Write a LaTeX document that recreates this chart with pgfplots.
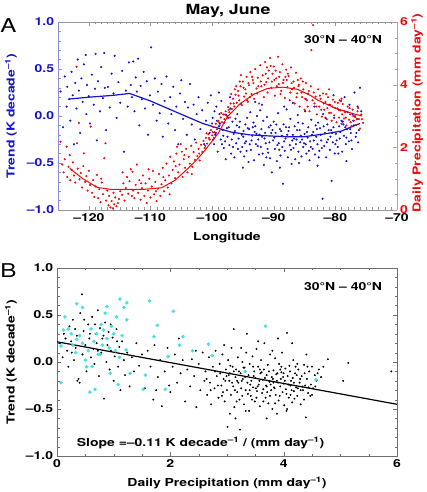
\documentclass[border=0pt]{standalone}
\usepackage{fontspec}
\setmainfont{TeX Gyre Heros}[FakeStretch=1.27]
\usepackage{pgfplots}
\pgfplotsset{compat=1.18}
\definecolor{blueD}{RGB}{20,20,205}
\definecolor{blueL}{RGB}{140,140,225}
\definecolor{redD}{RGB}{240,10,10}
\definecolor{redL}{RGB}{240,140,140}
\definecolor{cyanD}{RGB}{70,225,225}
\definecolor{grayL}{RGB}{150,150,150}
\definecolor{grayD}{RGB}{110,110,110}
\begin{document}
\fontsize{11}{13}\selectfont\bfseries
\begin{tikzpicture}
\path[use as bounding box] (0pt,0pt) rectangle (426pt,492pt);
\pgfplotsset{every axis/.append style={scale only axis, tick align=inside, major tick length=4pt, minor tick length=2.5pt,
  tick label style={font=\fontsize{11}{13}\selectfont\bfseries}}}
% ---------------- Panel A, left axis (trend) ----------------
\begin{axis}[at={(58pt,282pt)}, anchor=south west, width=339pt, height=188pt,
  xmin=-125, xmax=-70, ymin=-1, ymax=1,
  axis x line*=box, axis y line*=left,
  x axis line style={grayL}, y axis line style={blueL},
  x tick style={grayL}, y tick style={blueL},
  xtick={-120,-110,-100,-90,-80,-70}, xticklabels={–120,–110,–100,–90,–80,–70},
  xticklabel style={inner sep=1pt, yshift=-2.3pt},
  minor x tick num=9,
  ytick={-1,-0.5,0,0.5,1}, yticklabels={–1.0,–0.5,0.0,0.5,1.0}, minor y tick num=4,
  yticklabel style={text=blueD}]
\addplot[only marks, mark=*, mark size=0.85pt, blueD] table {
-124.6 0.26
-124.2 -0.12
-123.9 0.42
-123.6 0.10
-123.5 0.31
-123.2 0.18
-123.0 -0.05
-122.8 0.47
-122.6 0.22
-122.4 -0.30
-122.2 0.35
-122.0 0.08
-121.8 0.60
-121.6 0.27
-121.4 -0.18
-121.2 0.40
-121.0 0.15
-120.8 0.55
-120.5 0.65
-120.4 0.02
-120.3 0.33
-120.0 0.21
-119.8 -0.08
-119.5 0.44
-119.2 0.12
-119.0 0.29
-118.9 0.66
-118.7 -0.26
-118.5 0.37
-118.2 0.05
-118.0 0.52
-117.7 0.19
-117.5 0.67
-117.4 0.30
-117.2 -0.15
-116.9 0.31
-116.6 0.09
-116.3 0.45
-116.0 0.24
-115.8 0.64
-115.5 -0.02
-115.2 0.36
-114.9 0.14
-114.6 0.48
-114.3 -0.38
-114.0 0.27
-113.7 0.10
-113.5 0.57
-113.2 0.33
-113.0 0.20
-112.8 0.58
-112.6 0.05
-112.4 0.41
-112.2 0.26
-112.0 0.61
-111.8 -0.10
-111.6 0.32
-111.4 0.18
-111.1 0.47
-110.9 0.08
-110.6 0.37
-110.4 -0.20
-110.1 0.22
-109.9 0.73
-109.6 0.12
-109.3 0.40
-109.0 -0.05
-108.8 0.26
-108.5 0.03
-108.2 0.34
-108.0 -0.22
-107.7 0.16
-107.4 0.42
-107.1 -0.08
-106.8 0.20
-106.6 0.02
-106.3 0.31
-106.0 -0.15
-105.8 0.10
-105.5 -0.30
-105.2 0.24
-105.0 0.38
-104.7 -0.03
-104.4 0.15
-104.1 -0.20
-103.9 0.09
-103.6 0.34
-103.3 -0.09
-103.0 0.12
-102.8 -0.25
-102.5 0.02
-102.2 0.20
-101.9 -0.14
-101.6 0.06
-101.3 -0.30
-101.0 -0.05
-100.7 0.14
-100.4 -0.18
-100.2 0.22
-100.0 -0.08
-99.9 -0.02
-99.7 -0.30
-99.6 0.05
-99.4 -0.18
-99.3 0.10
-99.1 -0.38
-98.9 -0.11
-98.8 0.02
-98.6 -0.25
-98.5 0.16
-98.3 -0.15
-98.1 -0.34
-98.0 -0.07
-97.8 -0.46
-97.7 0.01
-97.5 -0.22
-97.3 -0.12
-97.2 -0.31
-97.0 0.08
-96.9 -0.40
-96.7 -0.06
-96.5 -0.19
-96.4 -0.44
-96.2 -0.03
-96.1 -0.29
-95.9 0.02
-95.7 -0.24
-95.6 -0.12
-95.4 -0.38
-95.3 0.13
-95.1 -0.33
-94.9 -0.16
-94.8 -0.43
-94.6 -0.09
-94.5 -0.27
-94.3 -0.02
-94.1 -0.49
-94.0 -0.14
-93.8 0.04
-93.7 -0.36
-93.5 -0.21
-93.3 -0.07
-93.2 -0.47
-93.0 -0.11
-92.9 -0.30
-92.7 0.00
-92.5 -0.25
-92.4 -0.41
-92.2 0.06
-92.1 -0.33
-91.9 -0.22
-91.7 -0.05
-91.6 -0.52
-91.4 -0.18
-91.3 -0.29
-91.1 -0.01
-90.9 -0.39
-90.8 -0.12
-90.6 -0.45
-90.5 -0.10
-90.3 -0.60
-90.1 -0.26
-90.0 -0.06
-89.8 -0.35
-89.7 -0.18
-89.5 -0.48
-89.3 0.03
-89.2 -0.29
-89.0 -0.14
-88.9 -0.42
-88.7 -0.21
-88.5 -0.72
-88.4 -0.09
-88.2 -0.37
-88.1 -0.24
-87.9 0.07
-87.7 -0.44
-87.6 -0.16
-87.4 -0.31
-87.3 -0.03
-87.1 -0.51
-86.9 -0.20
-86.8 -0.34
-86.6 -0.11
-86.5 -0.46
-86.3 -0.25
-86.1 0.01
-86.0 -0.38
-85.8 -0.15
-85.7 -0.28
-85.5 -0.43
-85.3 -0.08
-85.2 -0.33
-85.0 -0.19
-84.9 0.05
-84.7 -0.40
-84.5 -0.23
-84.4 -0.12
-84.2 -0.47
-84.1 -0.27
-83.9 -0.04
-83.7 -0.35
-83.6 -0.17
-83.4 0.10
-83.3 -0.41
-83.1 -0.22
-82.9 -0.30
-82.8 -0.07
-82.6 -0.37
-82.5 -0.13
-82.3 -0.26
-82.1 -0.88
-82.0 0.02
-81.8 -0.32
-81.7 -0.18
-81.5 -0.44
-81.3 -0.09
-81.2 -0.25
-81.0 0.12
-80.9 -0.36
-80.7 -0.15
-80.6 -0.69
-80.4 -0.28
-80.2 -0.02
-80.1 -0.40
-79.9 -0.19
-79.7 0.08
-79.6 -0.33
-79.4 -0.11
-79.3 -0.24
-79.1 0.16
-78.9 -0.38
-78.8 -0.06
-78.6 -0.21
-78.5 0.20
-78.3 -0.30
-78.1 -0.14
-78.0 0.04
-77.8 -0.27
-77.7 0.12
-77.5 -0.18
-77.3 -0.35
-77.2 0.02
-77.0 -0.10
-76.9 0.25
-76.7 -0.22
-76.5 -0.03
-76.4 0.10
-76.2 -0.15
-76.0 0.30
-75.8 0.05
-99.5 -0.20
-98.7 -0.08
-98.2 -0.21
-97.6 -0.13
-96.8 -0.25
-96.3 -0.16
-95.8 -0.35
-95.2 -0.20
-94.7 -0.29
-94.2 -0.13
-93.6 -0.26
-93.1 -0.17
-92.6 -0.32
-92.0 -0.14
-91.5 -0.24
-91.0 -0.35
-90.4 -0.18
-89.9 -0.23
-89.4 -0.31
-88.8 -0.16
-88.3 -0.27
-87.8 -0.20
-87.2 -0.36
-86.7 -0.24
-86.2 -0.15
-85.6 -0.21
-85.1 -0.29
-84.6 -0.17
-84.0 -0.33
-83.5 -0.26
-83.0 -0.14
-82.4 -0.20
-81.9 -0.11
-81.4 -0.28
-80.8 -0.22
-80.3 -0.12
-79.8 -0.26
-79.2 -0.17
-78.7 -0.09
-78.2 -0.23
-77.6 -0.14
-77.1 -0.05
-76.6 -0.18
-97.9 -0.27
-96.0 -0.10
-94.4 -0.37
-92.8 -0.19
-91.8 -0.40
-90.7 -0.28
-89.6 -0.09
-88.6 -0.33
-87.5 -0.12
-86.4 -0.30
-85.4 -0.25
-84.3 -0.37
-83.2 -0.10
-82.2 -0.34
-81.1 -0.15
-80.0 -0.30
-79.0 -0.05
-99.8 -0.25
-99.2 -0.05
-98.4 -0.30
-97.4 -0.02
-96.6 -0.33
-95.5 -0.06
-94.95 -0.22
-93.9 -0.30
-93.4 -0.12
-92.3 -0.20
-91.2 -0.44
-90.2 -0.15
-89.1 -0.36
-88.0 -0.12
-87.0 -0.26
-86.05 -0.07
-85.9 -0.50
-84.8 -0.30
-83.8 -0.20
-82.7 -0.44
-81.6 -0.02
-80.5 -0.18
-79.5 -0.40
-78.4 -0.12
-77.4 -0.26
-76.8 -0.01
-76.3 -0.28
-95.0 -0.55
-91.9 0.12
-89.0 -0.55
-86.9 0.14
-84.8 0.18
-82.9 -0.53
-80.3 0.22
-78.2 -0.48
-97.1 0.20
-98.9 0.25
-93.0 0.15
-88.3 0.10
};
\addplot[blueD, line width=1.2pt] table {
-123.2 0.18
-120.0 0.20
-116.0 0.22
-113.4 0.24
-110.0 0.16
-107.9 0.10
-104.0 -0.01
-101.5 -0.08
-100.0 -0.11
-97.0 -0.17
-94.0 -0.20
-91.5 -0.21
-88.0 -0.22
-85.0 -0.22
-81.7 -0.19
-79.0 -0.16
-77.2 -0.11
-76.0 -0.08
};
\end{axis}
% ---------------- Panel A, right axis (precipitation) ----------------
\begin{axis}[at={(58pt,282pt)}, anchor=south west, width=339pt, height=188pt,
  xmin=-125, xmax=-70, ymin=0, ymax=6,
  axis x line=none, axis y line*=right,
  y axis line style={redL}, y tick style={redL},
  ytick={0,2,4,6}, yticklabels={0,2,4,6}, minor y tick num=3,
  yticklabel style={text=redD, inner sep=1pt, xshift=2pt}]
\addplot[only marks, mark=*, mark size=0.85pt, redD] table {
-124.6 2.18
-124.3 1.45
-124.1 1.20
-123.9 1.62
-123.6 2.02
-123.5 1.05
-123.3 1.38
-123.1 1.75
-123.0 0.95
-122.8 1.28
-122.6 1.52
-122.4 1.10
-122.2 0.88
-122.0 4.57
-121.9 2.13
-121.8 1.32
-121.6 2.78
-121.5 0.98
-121.3 1.18
-121.1 0.72
-120.9 1.40
-120.8 1.81
-120.6 0.90
-120.4 1.08
-120.2 0.62
-120.0 1.25
-119.8 0.80
-119.7 2.66
-119.5 0.55
-119.3 0.95
-119.1 0.42
-118.9 0.75
-118.7 1.12
-118.5 0.38
-118.3 0.66
-118.1 0.25
-117.9 0.88
-117.7 0.50
-117.5 1.65
-117.3 2.13
-117.2 0.30
-117.0 0.62
-116.8 0.15
-116.7 0.45
-116.5 0.08
-116.3 0.28
-116.1 0.05
-115.9 0.18
-115.7 0.40
-115.5 0.12
-115.3 0.22
-115.1 0.35
-114.9 0.60
-114.6 0.48
-114.4 0.85
-114.2 0.30
-114.0 0.70
-113.8 1.05
-113.6 0.52
-113.4 0.92
-113.2 1.30
-112.9 1.22
-112.8 0.62
-112.6 0.38
-112.4 0.80
-112.2 1.45
-112.0 0.55
-111.8 0.95
-111.6 0.33
-111.4 0.70
-111.2 1.10
-111.0 0.45
-110.8 0.85
-110.6 0.22
-110.4 0.62
-110.2 1.00
-110.0 0.40
-109.8 0.75
-109.6 1.25
-109.4 0.50
-109.2 0.90
-109.0 0.28
-108.8 0.68
-108.6 1.15
-108.4 0.45
-108.2 0.82
-108.0 1.35
-107.8 0.60
-107.6 0.95
-107.4 1.48
-107.2 0.72
-107.0 1.10
-106.8 1.70
-106.6 0.85
-106.4 1.28
-106.2 1.55
-106.0 1.02
-105.8 1.80
-105.7 2.02
-105.5 1.20
-105.3 1.45
-105.1 2.10
-104.9 1.86
-104.8 1.05
-104.6 1.62
-104.4 1.35
-104.2 1.95
-104.0 1.20
-103.8 1.70
-103.6 1.48
-103.4 2.05
-103.2 1.38
-103.0 1.85
-102.8 1.60
-102.6 2.15
-102.4 1.72
-102.2 1.95
-102.0 1.58
-101.8 2.08
-101.6 1.85
-101.4 2.20
-101.2 1.98
-101.0 2.30
-100.8 2.12
-100.6 2.42
-100.4 2.25
-100.2 2.55
-100.0 2.38
-99.8 2.65
-99.6 2.48
-99.4 2.75
-99.2 2.58
-99.0 2.85
-98.8 2.70
-98.6 2.95
-98.4 2.80
-98.2 3.05
-98.0 2.90
-97.8 3.15
-97.6 3.00
-97.4 3.28
-97.2 3.12
-97.0 3.40
-96.8 3.22
-96.6 3.55
-96.4 3.30
-96.2 3.68
-96.0 3.42
-95.8 3.80
-95.6 3.50
-95.4 3.95
-95.2 3.35
-95.0 4.10
-94.8 3.62
-94.6 3.85
-94.4 4.25
-94.2 3.45
-94.0 3.98
-93.8 4.40
-93.6 3.70
-93.4 4.15
-93.2 3.55
-93.0 4.50
-92.8 3.88
-92.6 4.22
-92.4 3.40
-92.2 4.62
-92.0 3.95
-91.8 4.30
-91.6 3.60
-91.4 4.72
-91.2 4.08
-91.0 3.75
-90.8 4.45
-90.6 4.85
-90.4 3.90
-90.2 4.35
-90.0 4.58
-89.8 3.65
-89.6 4.20
-89.3 4.89
-89.2 4.02
-89.0 4.40
-88.8 3.80
-88.6 4.65
-88.4 4.15
-88.2 3.58
-88.0 4.48
-87.8 3.92
-87.6 4.28
-87.4 3.50
-87.2 4.55
-87.0 3.85
-86.8 4.10
-86.6 3.40
-86.4 4.38
-86.2 3.72
-86.0 3.95
-85.8 3.30
-85.6 4.20
-85.4 3.60
-85.2 3.85
-85.0 3.20
-84.8 4.05
-84.6 3.50
-84.4 3.72
-84.2 3.15
-84.0 3.95
-83.9 5.10
-83.6 5.90
-83.4 3.40
-83.2 3.62
-83.0 3.05
-82.8 3.85
-82.6 3.30
-82.4 3.55
-82.2 2.98
-82.0 3.72
-81.8 3.20
-81.6 3.45
-81.4 2.90
-81.2 3.60
-81.0 3.10
-80.8 3.35
-80.6 2.85
-80.4 3.52
-80.2 3.02
-80.0 3.25
-79.8 2.80
-79.6 3.42
-79.4 2.95
-79.2 3.18
-79.0 2.75
-78.8 3.38
-78.6 2.92
-78.4 3.12
-78.2 2.70
-78.0 3.30
-77.8 2.88
-77.6 3.05
-77.4 2.68
-77.2 3.20
-77.0 2.85
-76.8 3.00
-76.6 2.72
-76.4 3.15
-76.2 2.90
-76.0 2.60
-75.8 3.05
-75.5 2.78
-96.9 3.70
-96.1 3.95
-95.3 4.30
-94.5 3.72
-93.9 3.60
-93.3 4.05
-92.7 3.72
-92.1 4.10
-91.5 4.00
-90.9 4.20
-90.3 4.10
-89.7 4.45
-89.1 4.25
-88.5 4.05
-87.9 4.15
-87.3 3.75
-86.7 3.90
-86.1 4.15
-85.5 3.75
-84.9 3.55
-84.3 3.80
-83.7 3.50
-83.1 3.30
-82.5 3.65
-81.9 3.40
-81.3 3.25
-80.7 3.10
-80.1 3.45
-79.5 3.20
-78.9 3.05
-78.3 2.95
-77.7 3.25
-77.1 3.00
-76.5 2.90
-98.9 2.80
-99.9 2.48
-101.1 2.05
-100.5 2.30
-97.9 3.05
-97.3 3.20
-96.5 3.40
-95.7 3.65
-94.9 3.90
-94.1 4.05
-91.1 4.55
-89.5 3.95
-87.7 4.35
-85.9 4.00
-118.0 1.00
-116.0 0.55
-114.5 1.20
-113.0 0.45
-111.5 0.85
-110.3 1.30
-109.1 0.60
-107.9 1.05
-106.9 0.50
-105.9 1.40
-104.5 1.75
-103.3 1.15
-102.1 1.80
-100.9 2.45
-99.7 2.30
-98.5 3.10
-97.1 2.95
-96.3 3.85
-95.5 4.10
-94.3 3.50
-93.5 4.25
-92.5 3.95
-91.3 4.35
-90.5 4.60
-89.9 4.15
-88.9 3.70
-88.1 4.25
-87.1 4.05
-86.3 3.60
-85.3 4.10
-84.5 3.30
-83.5 3.75
-82.3 3.20
-81.5 3.70
-80.5 3.30
-79.3 3.50
-78.5 3.15
-77.5 2.80
-76.3 3.25
-75.7 2.90
-81.0 3.85
-79.0 3.55
};
\addplot[redD, line width=1pt] table {
-123.1 1.33
-121.0 1.00
-118.6 0.72
-116.5 0.66
-114.8 0.66
-111.0 0.66
-108.2 0.71
-106.0 0.95
-103.9 1.33
-102.5 1.60
-101.1 1.92
-99.0 2.45
-97.5 2.98
-95.4 3.40
-93.2 3.70
-91.0 3.88
-88.5 3.92
-86.1 3.85
-84.0 3.65
-82.8 3.50
-80.0 3.25
-77.4 3.09
-75.7 3.00
};
\end{axis}
% ---------------- Panel B ----------------
\begin{axis}[at={(57pt,36pt)}, anchor=south west, width=340pt, height=188pt,
  xmin=0, xmax=6, ymin=-1, ymax=1,
  axis line style={grayD}, tick style={grayD},
  xtick={0,2,4,6}, xticklabels={0,2,4,6}, minor x tick num=3,
  ytick={-1,-0.5,0,0.5,1}, yticklabels={–1.0,–0.5,0.0,0.5,1.0}, minor y tick num=4]
\addplot[only marks, mark=*, mark size=0.75pt, black] table {
0.05 0.20
0.10 0.05
0.12 0.30
0.18 0.12
0.20 -0.05
0.22 0.38
0.25 0.22
0.28 0.45
0.30 0.02
0.33 0.15
0.35 0.28
0.38 -0.18
0.40 -0.22
0.41 0.52
0.44 0.72
0.45 0.08
0.47 0.33
0.50 0.18
0.52 -0.10
0.55 0.40
0.57 0.25
0.60 0.05
0.62 0.48
0.64 0.14
0.66 -0.02
0.68 0.30
0.70 0.20
0.72 0.55
0.74 -0.15
0.76 0.36
0.78 0.10
0.80 0.25
0.83 -0.39
0.85 0.42
0.87 0.00
0.89 0.18
0.91 0.32
0.93 -0.08
0.95 0.12
0.98 0.26
1.00 -0.20
1.02 0.06
1.05 0.35
1.08 -0.05
1.10 0.16
1.12 -0.30
1.15 0.22
1.18 0.02
1.20 -0.14
1.24 0.10
1.28 -0.26
1.32 0.05
1.36 -0.10
1.40 0.20
1.45 -0.04
1.50 0.08
0.15 0.25
0.32 0.35
0.58 0.30
0.82 0.28
0.95 0.40
1.06 0.22
0.36 -0.20
0.26 0.10
0.72 0.12
0.48 0.45
0.67 0.40
1.55 -0.28
1.60 0.12
1.65 -0.05
1.70 -0.40
1.72 0.18
1.78 -0.16
1.82 0.02
1.85 -0.47
1.90 -0.10
1.95 0.15
2.00 -0.32
2.04 -0.05
2.08 0.08
2.12 -0.22
2.18 -0.12
2.22 0.02
2.26 -0.42
2.30 -0.08
2.35 -0.26
2.38 0.03
2.42 -0.15
2.46 -0.48
2.50 -0.02
2.53 -0.30
2.57 0.10
2.60 -0.20
1.75 -0.30
2.15 0.25
2.45 0.12
1.98 -0.25
2.62 -0.10
2.65 -0.35
2.68 0.05
2.70 -0.22
2.72 -0.45
2.75 -0.05
2.78 -0.28
2.80 0.12
2.82 -0.15
2.85 -0.38
2.87 -0.02
2.90 -0.25
2.92 0.08
2.94 -0.18
2.96 -0.42
2.98 -0.08
3.00 -0.30
3.01 -0.69
3.02 0.02
3.04 -0.20
3.05 -0.12
3.07 -0.35
3.08 0.15
3.10 -0.05
3.11 -0.26
3.12 0.35
3.13 -0.48
3.15 -0.16
3.16 -0.08
3.18 -0.32
3.19 0.05
3.20 -0.22
3.22 -0.40
3.23 -0.72
3.24 -0.12
3.25 -0.28
3.27 0.00
3.28 -0.18
3.30 -0.45
3.31 -0.06
3.33 -0.30
3.34 0.10
3.35 0.30
3.36 -0.22
3.38 -0.14
3.39 -0.52
3.40 -0.02
3.42 -0.36
3.43 -0.20
3.45 0.06
3.46 -0.27
3.48 -0.10
3.49 -0.42
3.50 -0.17
3.52 0.14
3.53 -0.31
3.55 -0.05
3.56 -0.24
3.58 -0.47
3.59 -0.12
3.60 0.02
3.62 -0.33
3.63 -0.19
3.65 -0.08
3.66 0.20
3.68 -0.38
3.69 -0.25
3.70 -0.14
3.72 -0.03
3.73 -0.44
3.75 -0.21
3.76 0.08
3.78 -0.30
3.79 -0.16
3.80 -0.50
3.82 -0.09
3.83 -0.27
3.85 0.04
3.86 -0.35
3.88 -0.20
3.89 -0.12
3.91 -0.41
3.92 -0.02
3.94 -0.26
3.95 -0.18
3.97 0.10
3.98 -0.32
4.00 -0.23
4.01 -0.46
4.03 -0.07
4.04 -0.29
4.06 0.31
4.07 -0.15
4.09 -0.38
4.10 -0.04
4.12 -0.25
4.13 -0.20
4.15 -0.43
4.17 0.02
4.18 -0.31
4.20 -0.12
4.22 -0.27
4.24 -0.36
4.26 -0.08
4.28 -0.22
4.30 -0.45
4.32 -0.15
4.34 -0.30
4.36 -0.03
4.38 -0.25
4.39 -0.59
4.41 -0.18
4.43 -0.33
4.45 -0.10
4.48 -0.24
4.50 -0.05
4.52 -0.28
4.55 -0.14
4.58 -0.20
4.62 -0.08
4.66 -0.16
4.70 -0.05
4.78 0.03
5.05 -0.20
5.14 -0.01
5.90 -0.10
3.03 -0.14
3.09 -0.22
3.14 -0.30
3.21 -0.10
3.26 -0.20
3.32 -0.16
3.37 -0.34
3.41 -0.24
3.47 -0.15
3.51 -0.28
3.57 -0.20
3.61 -0.11
3.64 -0.29
3.67 -0.17
3.71 -0.32
3.74 -0.10
3.77 -0.24
3.81 -0.18
3.84 -0.28
3.87 -0.13
3.90 -0.22
3.93 -0.36
3.96 -0.11
3.99 -0.16
4.02 -0.20
4.05 -0.34
4.08 -0.24
4.11 -0.10
4.14 -0.30
4.16 -0.17
4.19 -0.39
4.21 -0.05
4.25 -0.28
4.29 -0.18
4.33 -0.26
4.37 -0.12
2.88 -0.12
2.93 -0.32
2.97 -0.20
3.06 -0.04
3.17 -0.42
3.29 -0.06
3.44 -0.40
3.54 -0.26
3.85 -0.44
3.96 -0.05
4.23 -0.14
4.44 -0.27
4.47 -0.36
2.64 -0.18
2.71 -0.30
2.79 -0.10
2.84 -0.25
2.91 -0.36
2.99 -0.15
3.05 -0.55
3.12 -0.10
3.18 -0.20
3.27 -0.36
3.33 -0.52
3.40 -0.30
3.46 -0.05
3.52 -0.38
3.58 -0.08
3.64 -0.42
3.70 -0.26
3.76 -0.36
3.82 -0.22
3.88 -0.55
3.94 -0.08
4.00 -0.12
4.06 -0.50
4.12 -0.35
4.18 -0.22
4.24 -0.02
4.30 -0.30
4.36 -0.40
4.42 -0.05
4.50 -0.35
4.56 -0.26
4.60 -0.12
3.25 0.15
3.55 0.22
3.80 0.12
4.15 0.20
2.95 0.18
3.90 0.25
4.40 0.08
3.15 -0.60
3.70 -0.60
4.05 -0.52
};
\addplot[only marks, mark=*, mark size=1.6pt, cyanD] table {
0.07 -0.22
0.07 0.17
0.11 0.34
0.14 0.48
0.35 0.24
0.52 -0.05
0.58 -0.32
0.67 -0.29
0.76 0.08
0.82 0.34
0.85 0.52
1.05 0.48
1.23 0.45
0.94 -0.12
1.08 -0.24
1.22 0.13
1.29 -0.12
1.52 -0.29
1.56 -0.14
1.71 0.27
1.77 0.39
1.91 -0.29
1.96 0.06
2.05 0.54
2.22 0.27
2.16 0.18
2.39 0.12
2.67 0.19
2.74 0.07
3.68 0.38
3.32 -0.10
4.57 -0.19
0.35 0.62
0.45 0.58
0.88 0.59
1.11 0.67
1.23 0.63
1.18 0.58
1.63 0.65
0.20 0.35
0.28 0.18
0.40 0.28
0.45 0.20
0.55 0.12
0.60 0.35
0.65 0.22
0.70 0.30
0.73 0.08
0.78 0.40
0.80 0.18
0.88 0.25
0.92 0.15
1.00 0.30
1.10 0.05
1.15 0.28
0.50 0.02
0.33 0.10
0.62 -0.05
0.96 0.38
0.25 0.30
1.03 0.12
};
\addplot[black, line width=1.2pt] table {
0 0.215
6 -0.45
};
\end{axis}
% ---------------- Text ----------------
\node[font=\fontsize{14}{16}\selectfont\bfseries] at (228pt,481pt) {May, June};
\node[font=\fontsize{19}{21}\selectfont\mdseries] at (8.5pt,466pt) {A};
\node[font=\fontsize{19}{21}\selectfont\mdseries] at (8.5pt,221.5pt) {B};
\node at (343pt,452pt) {30°N – 40°N};
\node at (343pt,205pt) {30°N – 40°N};
\node[rotate=90, text=blueD] at (11pt,376pt) {Trend (K decade\textsuperscript{–1})};
\node[rotate=90, text=redD, inner sep=0pt] at (417pt,379pt) {Daily Precipitation (mm day\textsuperscript{–1})};
\node at (227pt,254pt) {Longitude};
\node[rotate=90] at (11pt,130pt) {Trend (K decade\textsuperscript{–1})};
\node at (227pt,9pt) {Daily Precipitation (mm day\textsuperscript{–1})};
\node at (200.5pt,49pt) {Slope =–0.11 K decade\textsuperscript{–1} / (mm day\textsuperscript{–1})};
\end{tikzpicture}
\end{document}
